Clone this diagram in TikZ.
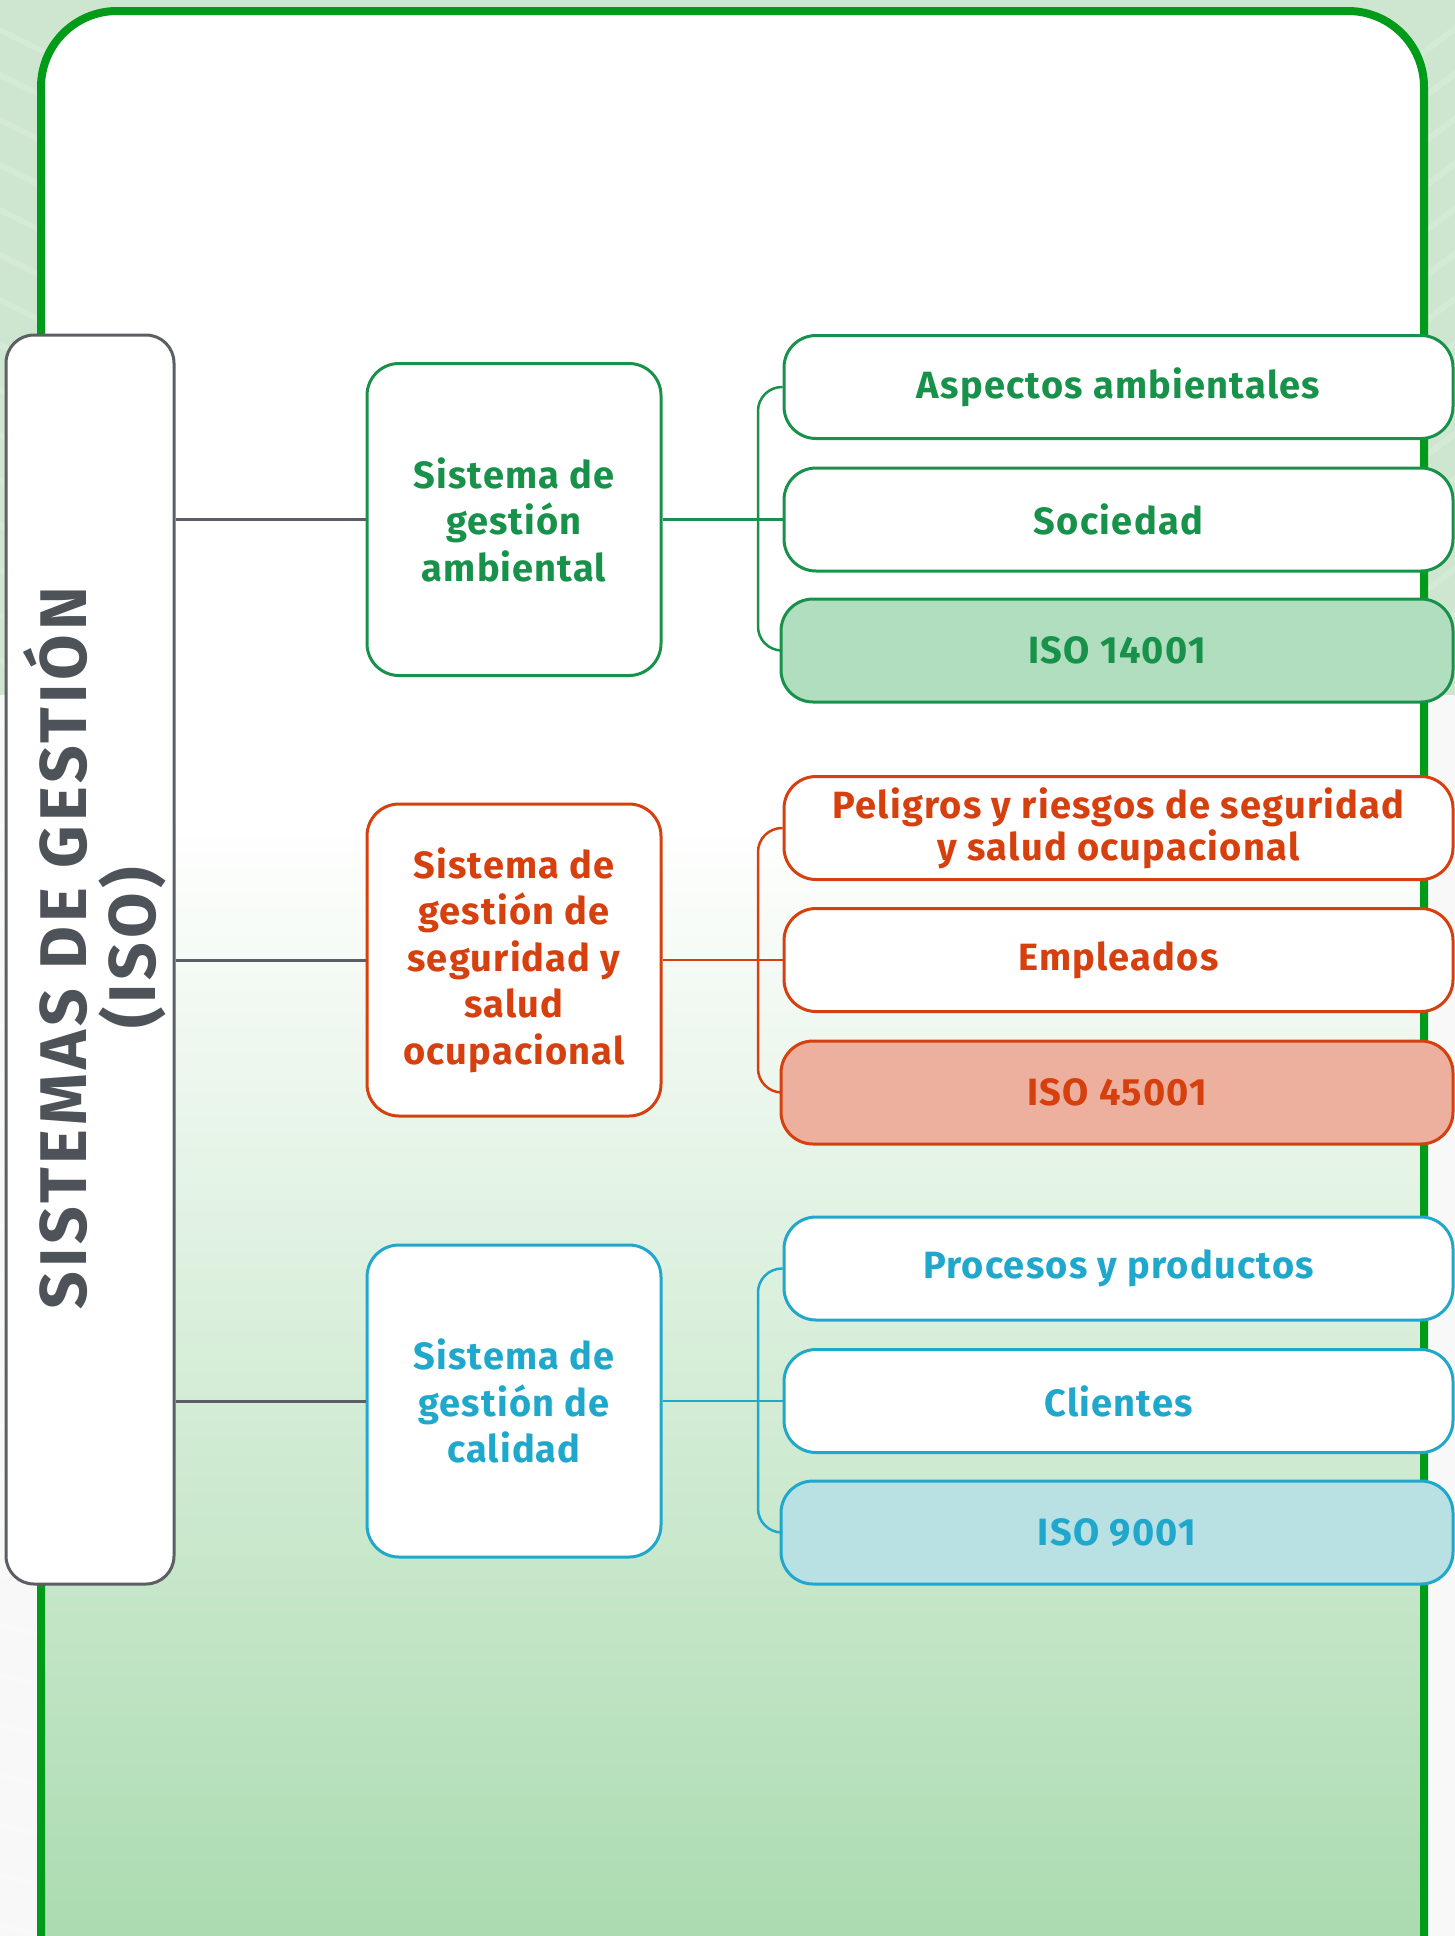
\documentclass[tikz,border=0pt]{standalone}
\usepackage{fontspec}
\setmainfont{Fira Sans}
\usetikzlibrary{calc}
\definecolor{greenC}{HTML}{18924A}
\definecolor{greenFill}{HTML}{B0DEBF}
\definecolor{orangeC}{HTML}{D63F0E}
\definecolor{orangeFill}{HTML}{EDB09E}
\definecolor{blueC}{HTML}{20A8CC}
\definecolor{blueFill}{HTML}{B9E0E3}
\definecolor{grayC}{HTML}{5B5E64}
\definecolor{grayText}{HTML}{4E535A}
\definecolor{frameC}{HTML}{009B19}
\definecolor{outTop}{HTML}{CEE6D0}
\definecolor{outBot}{HTML}{F8F8F8}
\definecolor{gradBottom}{HTML}{ABDBB0}
\tikzset{
  mainbox/.style={draw=grayC, line width=3pt, fill=white, rounded corners=28pt,
    minimum width=168pt, minimum height=1249pt, inner sep=0pt},
  midbox/.style={draw=#1, text=#1, line width=3pt, fill=white, rounded corners=32pt,
    minimum width=294pt, minimum height=312pt, inner sep=0pt, align=center,
    font=\bfseries\fontsize{38}{46.5}\selectfont\addfontfeatures{LetterSpace=3}},
  subbox/.style={draw=#1, text=#1, line width=3pt, fill=white, rounded corners=32pt,
    minimum width=669pt, minimum height=103pt, inner sep=0pt, align=center,
    font=\bfseries\fontsize{38}{42}\selectfont\addfontfeatures{LetterSpace=3.3}},
  isobox/.style={draw=#1, text=#1, line width=3pt, rounded corners=32pt,
    minimum width=672pt, minimum height=103pt, inner sep=0pt, align=center,
    font=\bfseries\fontsize{38}{42}\selectfont\addfontfeatures{LetterSpace=3.3}},
  conn/.style={draw=#1, line width=2.5pt},
  graylink/.style={draw=grayC, line width=3pt},
}
\begin{document}
\begin{tikzpicture}[x=1pt,y=-1pt]
\useasboundingbox (0,0) rectangle (1455,1936);
\clip (0,0) rectangle (1455,1936);
% outside background
\fill[outTop] (0,0) rectangle (1455,695);
\fill[outBot] (0,695) rectangle (1455,1936);
\begin{scope}
  \clip (0,0) rectangle (1455,695);
  \foreach \i in {0,...,14} {
    \draw[white, opacity=0.15, line width=6pt] (-20,{20+\i*45}) -- (120,{90+\i*45});
    \draw[white, opacity=0.15, line width=6pt] (1400,{700-\i*45}) -- (1480,{640-\i*45});
  }
\end{scope}
\begin{scope}
  \clip (0,695) rectangle (1455,1936);
  \foreach \i in {0,...,24} {
    \draw[black!2.5, line width=4pt] (-20,{720+\i*50}) -- (60,{740+\i*50});
  }
\end{scope}
% frame interior
\fill[white, rounded corners=76pt] (41,2200) -- (41,11) -- (1424,11) -- (1424,2200) -- cycle;
\shade[top color=white, bottom color=gradBottom] (41,820) rectangle (1424,1936);
\draw[frameC, line width=8pt, rounded corners=76pt] (41,2200) -- (41,11) -- (1424,11) -- (1424,2200);

% main node
\node[mainbox] (main) at (90,959.5) {};
\node[rotate=90, align=center, text=grayText,
  font=\bfseries\fontsize{66}{69}\selectfont\addfontfeatures{LetterSpace=6}]
  (maintext) at (95,948) {SISTEMAS DE GESTIÓN\\(ISO)};

% middle nodes
\node[midbox=greenC] (m1) at (514,519.5) {Sistema de\\gestión\\ambiental};
\node[midbox=orangeC] (m2) at (514,960) {Sistema de\\gestión de\\seguridad y\\salud\\ocupacional};
\node[midbox=blueC] (m3) at (514,1401) {Sistema de\\gestión de\\calidad};

% bracket coordinates
\coordinate (b1) at (758,519.5);
\coordinate (b2) at (758,960);
\coordinate (b3) at (758,1401);

% group 1 right nodes
\node[subbox=greenC] (g1a) at (1118.5,387) {Aspectos ambientales};
\node[subbox=greenC] (g1b) at (1118.5,519.5) {Sociedad};
\node[isobox=greenC, fill=greenFill] (g1c) at (1117,650.5) {ISO 14001};
% group 2
\node[subbox=orangeC] (g2a) at (1118.5,828) {Peligros y riesgos de seguridad\\y salud ocupacional};
\node[subbox=orangeC] (g2b) at (1118.5,960) {Empleados};
\node[isobox=orangeC, fill=orangeFill] (g2c) at (1117,1092.5) {ISO 45001};
% group 3
\node[subbox=blueC] (g3a) at (1118.5,1268.5) {Procesos y productos};
\node[subbox=blueC] (g3b) at (1118.5,1401) {Clientes};
\node[isobox=blueC, fill=blueFill] (g3c) at (1117,1532.5) {ISO 9001};

% gray links
\draw[graylink] (m1.west -| main.east) -- (m1.west);
\draw[graylink] (m2.west -| main.east) -- (m2.west);
\draw[graylink] (m3.west -| main.east) -- (m3.west);

% colored links and brackets
\draw[conn=greenC] (m1.east) -- (g1b.west);
\draw[conn=greenC, rounded corners=24pt] (g1a.west) -- (g1a.west -| b1) -- (g1c.west -| b1) -- (g1c.west);
\draw[conn=orangeC] (m2.east) -- (g2b.west);
\draw[conn=orangeC, rounded corners=24pt] (g2a.west) -- (g2a.west -| b2) -- (g2c.west -| b2) -- (g2c.west);
\draw[conn=blueC] (m3.east) -- (g3b.west);
\draw[conn=blueC, rounded corners=24pt] (g3a.west) -- (g3a.west -| b3) -- (g3c.west -| b3) -- (g3c.west);
\end{tikzpicture}
\end{document}
